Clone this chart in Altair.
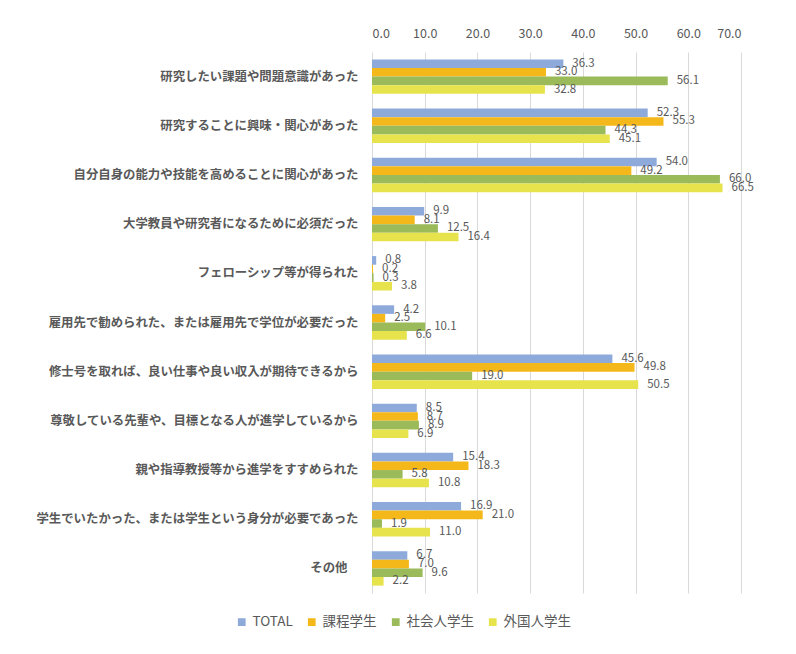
import altair as alt
import pandas as pd

categories = [
    "研究したい課題や問題意識があった",
    "研究することに興味・関心があった",
    "自分自身の能力や技能を高めることに関心があった",
    "大学教員や研究者になるために必須だった",
    "フェローシップ等が得られた",
    "雇用先で勧められた、または雇用先で学位が必要だった",
    "修士号を取れば、良い仕事や良い収入が期待できるから",
    "尊敬している先輩や、目標となる人が進学しているから",
    "親や指導教授等から進学をすすめられた",
    "学生でいたかった、または学生という身分が必要であった",
    "その他",
]
series = ["TOTAL", "課程学生", "社会人学生", "外国人学生"]
total = [36.3, 52.3, 54.0, 9.9, 0.8, 4.2, 45.6, 8.5, 15.4, 16.9, 6.7]
katei = [33.0, 55.3, 49.2, 8.1, 0.2, 2.5, 49.8, 8.7, 18.3, 21.0, 7.0]
shakaijin = [56.1, 44.3, 66.0, 12.5, 0.3, 10.1, 19.0, 8.9, 5.8, 1.9, 9.6]
gaikokujin = [32.8, 45.1, 66.5, 16.4, 3.8, 6.6, 50.5, 6.9, 10.8, 11.0, 2.2]
colors = ["#8EAADB", "#F4B81B", "#9BBA59", "#E7E34D"]

rows = []
for s, vals in zip(series, [total, katei, shakaijin, gaikokujin]):
    for c, v in zip(categories, vals):
        rows.append({"cat": c, "series": s, "value": v})
df = pd.DataFrame(rows)

FONT = "Noto Sans CJK JP"
GRAY = "#595959"

y = alt.Y("cat:N", sort=categories, title=None,
          scale=alt.Scale(paddingInner=0.3, paddingOuter=0.15),
          axis=alt.Axis(labelFont=FONT, labelFontSize=12.4, labelFontWeight="bold",
                        labelColor=GRAY, labelLimit=500, ticks=False, domain=False,
                        labelPadding=alt.ExprRef("datum.value == 'その他' ? 25 : 14")))
yoff = alt.YOffset("series:N", sort=series, scale=alt.Scale(paddingInner=0, paddingOuter=0))

bars = alt.Chart(df).mark_bar().encode(
    x=alt.X("value:Q", title=None,
            scale=alt.Scale(domain=[0, 70], nice=False),
            axis=alt.Axis(orient="top", values=[0, 10, 20, 30, 40, 50, 60, 70], format=".1f",
                          labelFont=FONT, labelFontSize=12.5, labelColor=GRAY,
                          ticks=False, domain=False, gridColor="#D9D9D9", gridWidth=1,
                          labelPadding=12)),
    y=y,
    yOffset=yoff,
    color=alt.Color("series:N", sort=series,
                    scale=alt.Scale(domain=series, range=colors),
                    legend=alt.Legend(title=None, orient="none", direction="horizontal",
                                      legendX=-137, legendY=563,
                                      symbolType="square", symbolSize=60, symbolStrokeWidth=0,
                                      labelOffset=4,
                                      labelFont=FONT, labelFontSize=13.5, labelColor=GRAY,
                                      columnPadding=12)),
)

labels = alt.Chart(df).mark_text(align="left", baseline="middle", dx=9,
                                 font=FONT, fontSize=11.5, color=GRAY).encode(
    x="value:Q",
    y=alt.Y("cat:N", sort=categories),
    yOffset=yoff,
    text=alt.Text("value:Q", format=".1f"),
)

chart = (bars + labels).properties(
    width=369, height=541,
    padding={"left": 27, "top": 19, "right": 5, "bottom": 5},
).configure_view(stroke=None)
chart.save("out.html", embed_options={"renderer": "svg", "actions": False})
